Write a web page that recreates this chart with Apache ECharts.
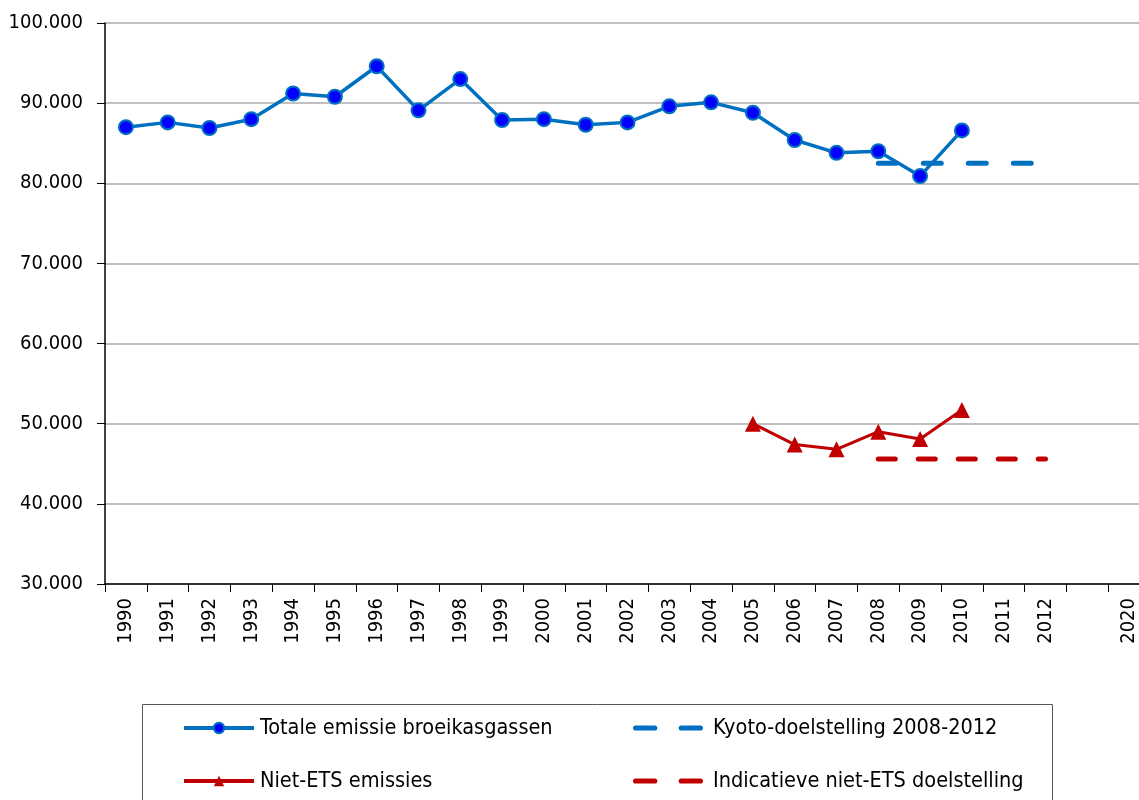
<!DOCTYPE html>
<html>
<head>
<meta charset="utf-8">
<script src="https://cdn.jsdelivr.net/npm/echarts@6/dist/echarts.min.js"></script>
<style>
html,body{margin:0;padding:0;background:#fff;}
#main{width:1139px;height:800px;}
</style>
</head>
<body>
<div id="main"></div>
<script>
const years = ['1990','1991','1992','1993','1994','1995','1996','1997','1998','1999','2000','2001','2002','2003','2004','2005','2006','2007','2008','2009','2010','2011','2012','','2020'];
const totaleEmissie = [87000, 87600, 86900, 88000, 91200, 90800, 94600, 89100, 93000, 87900, 88000, 87300, 87600, 89600, 90100, 88800, 85400, 83800, 84000, 80900, 86600, null, null, null, null];
const nietEtsEmissies = [null, null, null, null, null, null, null, null, null, null, null, null, null, null, null, 50000, 47400, 46800, 49000, 48100, 51700, null, null, null, null];
const kyotoDoel = [null, null, null, null, null, null, null, null, null, null, null, null, null, null, null, null, null, null, 82500, 82500, 82500, 82500, 82500, null, null];
const nietEtsDoel = [null, null, null, null, null, null, null, null, null, null, null, null, null, null, null, null, null, null, 45600, 45600, 45600, 45600, 45600, null, null];
const seriesNames = ['Totale emissie broeikasgassen', 'Kyoto-doelstelling 2008-2012', 'Niet-ETS emissies', 'Indicatieve niet-ETS doelstelling'];

const FONT = 'Tahoma, "DejaVu Sans Condensed", "DejaVu Sans", sans-serif';
function fmt(v){ return String(Math.round(v)).replace(/\B(?=(\d{3})+(?!\d))/g, '.'); }
const DASH_ICON = 'path://M2.5,0 h19 a2.5,2.5 0 0 1 0,5 h-19 a2.5,2.5 0 0 1 0,-5 z M47.5,0 h19 a2.5,2.5 0 0 1 0,5 h-19 a2.5,2.5 0 0 1 0,-5 z';

const chart = echarts.init(document.getElementById('main'), null, {renderer:'canvas'});
const legendBase = {
  orient:'horizontal', itemWidth:70, itemHeight:13, itemGap:0, padding:0,
  textStyle:{fontFamily:FONT, fontSize:21.5, color:'#000'},
  lineStyle:{width:4},
  selectedMode:false
};
chart.setOption({
  animation:false,
  backgroundColor:'#fff',
  grid:{left:105, top:23, width:1045, height:561, containLabel:false, outerBoundsMode:'none'},
  xAxis:{
    type:'category', data:years, boundaryGap:true,
    axisLine:{lineStyle:{color:'#000', width:1.5}},
    axisTick:{show:true, length:8, lineStyle:{color:'#000', width:1}},
    axisLabel:{rotate:90, margin:14, interval:0, fontFamily:FONT, fontSize:20, color:'#000'},
    splitLine:{show:false}
  },
  yAxis:{
    type:'value', min:30000, max:100000, interval:10000,
    axisLine:{show:true, lineStyle:{color:'#000', width:1.5}},
    axisTick:{show:true, length:8, lineStyle:{color:'#000', width:1}},
    axisLabel:{margin:22, fontFamily:FONT, fontSize:20, color:'#000', formatter:fmt},
    splitLine:{lineStyle:{color:'#c0c0c0', width:2}}
  },
  legend:[
    Object.assign({}, legendBase, {data:[seriesNames[0]], left:182, top:717, textStyle:Object.assign({}, legendBase.textStyle, {padding:[0,0,0,1]})}),
    Object.assign({}, legendBase, {data:[{name:seriesNames[1], icon:DASH_ICON}], left:633, top:717, textStyle:Object.assign({}, legendBase.textStyle, {padding:[0,0,0,5]})}),
    Object.assign({}, legendBase, {data:[seriesNames[2]], left:182, top:770, textStyle:Object.assign({}, legendBase.textStyle, {padding:[0,0,0,1]})}),
    Object.assign({}, legendBase, {data:[{name:seriesNames[3], icon:DASH_ICON}], left:633, top:770, textStyle:Object.assign({}, legendBase.textStyle, {padding:[0,0,0,5]})})
  ],
  graphic:[{
    type:'rect', left:142, top:704, z:-1,
    shape:{x:0, y:0, width:910, height:120},
    style:{fill:'#fff', stroke:'#555', lineWidth:1}
  }],
  series:[
    {
      name:seriesNames[0], type:'line', data:totaleEmissie, connectNulls:false,
      symbol:'circle', symbolSize:14,
      lineStyle:{color:'#0070C0', width:3.5},
      itemStyle:{color:'#0000FF', borderColor:'#0070C0', borderWidth:2},
      z:4
    },
    {
      name:seriesNames[1], type:'line', data:kyotoDoel, symbol:'none',
      lineStyle:{color:'#0070C0', width:5, type:[18,27], cap:'round'},
      itemStyle:{color:'#0070C0'},
      z:3
    },
    {
      name:seriesNames[2], type:'line', data:nietEtsEmissies,
      symbol:'triangle', symbolSize:16,
      lineStyle:{color:'#C00000', width:3},
      itemStyle:{color:'#C00000', borderWidth:0},
      z:4
    },
    {
      name:seriesNames[3], type:'line', data:nietEtsDoel, symbol:'none',
      lineStyle:{color:'#C00000', width:5, type:[17,23], cap:'round'},
      itemStyle:{color:'#C00000'},
      z:3
    }
  ]
});
</script>
</body>
</html>
